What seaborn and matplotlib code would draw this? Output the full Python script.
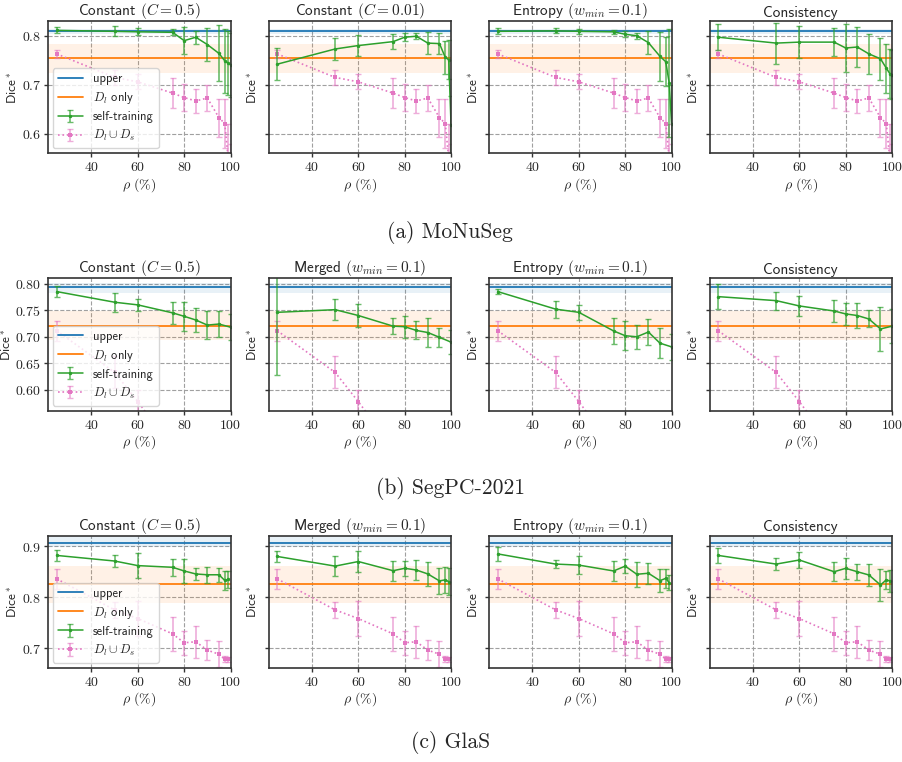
import numpy as np
import pandas as pd
import matplotlib
matplotlib.use("Agg")
import matplotlib.pyplot as plt
import seaborn as sns
from matplotlib.ticker import FuncFormatter
from matplotlib.container import ErrorbarContainer

sns.set_theme(style="ticks")
plt.rcParams['font.family'] = ['cmss10', 'DejaVu Sans']
plt.rcParams['mathtext.fontset'] = 'cm'
plt.rcParams['axes.unicode_minus'] = False

# ---------------- data ----------------
datasets = ["(a) MoNuSeg", "(b) SegPC-2021", "(c) GlaS"]

rho_mo = [25, 50, 60, 75, 80, 85, 90, 95, 97.5, 99, 100]
rho_seg = [25, 50, 60, 75, 80, 85, 90, 95, 100]
rho_glas = [25, 50, 60, 75, 80, 85, 90, 95, 97.5, 99]

titles_mo = [r"Constant $(C=0.5)$", r"Constant $(C=0.01)$", r"Entropy $(w_{min}=0.1)$", "Consistency"]
titles_seg = [r"Constant $(C=0.5)$", r"Merged $(w_{min}=0.1)$", r"Entropy $(w_{min}=0.1)$", "Consistency"]
titles_glas = [r"Constant $(C=0.5)$", r"Merged $(w_{min}=0.1)$", r"Entropy $(w_{min}=0.1)$", "Consistency"]

# MoNuSeg
upper_mo, upper_band_mo = 0.809, (0.804, 0.813)
dl_mo, dl_band_mo = 0.754, (0.725, 0.784)
st_mo = [
    [0.811, 0.809, 0.808, 0.807, 0.790, 0.797, 0.782, 0.764, 0.749, 0.744, 0.741],
    [0.742, 0.773, 0.780, 0.788, 0.797, 0.799, 0.785, 0.784, 0.756, 0.751, 0.618],
    [0.809, 0.810, 0.809, 0.808, 0.803, 0.800, 0.786, 0.758, 0.747, 0.703, 0.620],
    [0.797, 0.785, 0.787, 0.787, 0.775, 0.777, 0.763, 0.753, 0.734, 0.723, 0.720],
]
st_err_mo = [
    [0.006, 0.010, 0.007, 0.006, 0.027, 0.013, 0.034, 0.057, 0.065, 0.065, 0.065],
    [0.033, 0.022, 0.022, 0.016, 0.008, 0.006, 0.023, 0.022, 0.033, 0.040, 0.060],
    [0.006, 0.005, 0.005, 0.004, 0.006, 0.006, 0.023, 0.050, 0.050, 0.110, 0.080],
    [0.027, 0.042, 0.033, 0.028, 0.049, 0.040, 0.040, 0.043, 0.050, 0.050, 0.050],
]
un_mo = [0.763, 0.715, 0.706, 0.683, 0.674, 0.667, 0.673, 0.633, 0.621, 0.550, 0.500]
un_err_mo = [0.008, 0.015, 0.015, 0.030, 0.027, 0.025, 0.027, 0.039, 0.050, 0.070, 0.080]

# SegPC-2021
upper_seg, upper_band_seg = 0.793, (0.783, 0.802)
dl_seg, dl_band_seg = 0.7205, (0.694, 0.749)
st_seg = [
    [0.785, 0.765, 0.760, 0.745, 0.7385, 0.7316, 0.722, 0.724, 0.718],
    [0.746, 0.751, 0.740, 0.720, 0.719, 0.712, 0.708, 0.699, 0.690],
    [0.785, 0.752, 0.746, 0.711, 0.702, 0.700, 0.709, 0.688, 0.681],
    [0.7755, 0.768, 0.758, 0.7485, 0.743, 0.740, 0.7335, 0.7147, 0.720],
]
st_err_seg = [
    [0.011, 0.018, 0.012, 0.021, 0.027, 0.022, 0.026, 0.025, 0.024],
    [0.118, 0.020, 0.021, 0.015, 0.021, 0.017, 0.028, 0.018, 0.022],
    [0.005, 0.016, 0.014, 0.025, 0.027, 0.023, 0.024, 0.028, 0.024],
    [0.023, 0.017, 0.019, 0.021, 0.020, 0.024, 0.016, 0.041, 0.032],
]
un_seg = [0.7115, 0.633, 0.578, 0.490, 0.460, 0.440, 0.420, 0.400, 0.380]
un_err_seg = [0.019, 0.030, 0.022, 0.030, 0.030, 0.030, 0.030, 0.030, 0.030]

# GlaS
upper_glas, upper_band_glas = 0.906, (0.899, 0.925)
dl_glas, dl_band_glas = 0.826, (0.789, 0.862)
st_glas = [
    [0.882, 0.871, 0.862, 0.8587, 0.8515, 0.8456, 0.844, 0.844, 0.833, 0.835],
    [0.880, 0.861, 0.870, 0.852, 0.8567, 0.8534, 0.8456, 0.832, 0.834, 0.8305],
    [0.885, 0.865, 0.863, 0.8515, 0.861, 0.845, 0.847, 0.8325, 0.837, 0.8285],
    [0.882, 0.865, 0.873, 0.850, 0.8567, 0.850, 0.8436, 0.824, 0.834, 0.832],
]
st_err_glas = [
    [0.011, 0.011, 0.024, 0.017, 0.024, 0.012, 0.016, 0.014, 0.018, 0.017],
    [0.011, 0.019, 0.020, 0.020, 0.015, 0.019, 0.023, 0.026, 0.026, 0.027],
    [0.014, 0.008, 0.018, 0.020, 0.013, 0.025, 0.021, 0.022, 0.018, 0.015],
    [0.015, 0.012, 0.015, 0.019, 0.021, 0.016, 0.021, 0.032, 0.018, 0.022],
]
un_glas = [0.836, 0.775, 0.758, 0.728, 0.7105, 0.7125, 0.696, 0.688, 0.678, 0.678]
un_err_glas = [0.019, 0.016, 0.035, 0.034, 0.024, 0.031, 0.020, 0.026, 0.006, 0.005]

rows = [
    dict(rho=rho_mo, titles=titles_mo, upper=upper_mo, ub=upper_band_mo, dl=dl_mo, db=dl_band_mo,
         st=st_mo, ste=st_err_mo, un=un_mo, une=un_err_mo, ylim=(0.56, 0.83),
         yticks=[0.6, 0.7, 0.8], fmt="{:.1f}"),
    dict(rho=rho_seg, titles=titles_seg, upper=upper_seg, ub=upper_band_seg, dl=dl_seg, db=dl_band_seg,
         st=st_seg, ste=st_err_seg, un=un_seg, une=un_err_seg, ylim=(0.561, 0.81),
         yticks=[0.60, 0.65, 0.70, 0.75, 0.80], fmt="{:.2f}"),
    dict(rho=rho_glas, titles=titles_glas, upper=upper_glas, ub=upper_band_glas, dl=dl_glas, db=dl_band_glas,
         st=st_glas, ste=st_err_glas, un=un_glas, une=un_err_glas, ylim=(0.661, 0.921),
         yticks=[0.7, 0.8, 0.9], fmt="{:.1f}"),
]

C_UP = "#1f77b4"
C_DL = "#ff7f0e"
C_ST = "#2ca02c"
C_UN = "#e377c2"

fig, axes = plt.subplots(3, 4, figsize=(9.02, 7.62), dpi=100)
fig.subplots_adjust(left=0.0532, right=0.989, top=0.9724, bottom=0.1234, wspace=0.208, hspace=0.943)

for r, row in enumerate(rows):
    for c in range(4):
        ax = axes[r, c]
        ax.set_axisbelow(True)
        ax.grid(True, linestyle='--', color='#a0a0a0', linewidth=0.8)
        ax.axhspan(*row['ub'], color=C_UP, alpha=0.1, lw=0)
        ax.axhspan(*row['db'], color=C_DL, alpha=0.1, lw=0)
        h_up = ax.axhline(row['upper'], color=C_UP, lw=1.3)
        h_dl = ax.axhline(row['dl'], color=C_DL, lw=1.3)

        df_un = pd.DataFrame({"rho": row['rho'], "dice": row['un']})
        sns.lineplot(data=df_un, x="rho", y="dice", ax=ax, color=C_UN, linestyle=':', lw=1.2,
                     marker='s', markersize=2.5, markeredgewidth=0, legend=False)
        l_un = ax.lines[-1]
        eb_un = ax.errorbar(row['rho'], row['un'], yerr=row['une'], fmt='none', ecolor=C_UN,
                            elinewidth=1.2, capsize=2, alpha=0.6)

        df_st = pd.DataFrame({"rho": row['rho'], "dice": row['st'][c]})
        sns.lineplot(data=df_st, x="rho", y="dice", ax=ax, color=C_ST, lw=1.1,
                     marker='o', markersize=2.5, markeredgewidth=0, legend=False)
        l_st = ax.lines[-1]
        eb_st = ax.errorbar(row['rho'], row['st'][c], yerr=row['ste'][c], fmt='none', ecolor=C_ST,
                            elinewidth=1.2, capsize=2, alpha=0.7)

        ax.set_xlim(21.25, 100)
        ax.set_ylim(*row['ylim'])
        ax.set_xticks([40, 60, 80, 100])
        ax.set_yticks(row['yticks'])
        ax.xaxis.set_major_formatter(FuncFormatter(lambda v, p: r"$%d$" % v))
        fmt = row['fmt']
        if c == 0:
            ax.yaxis.set_major_formatter(FuncFormatter(lambda v, p, f=fmt: "$" + f.format(v) + "$"))
        else:
            ax.set_yticklabels([])
        ax.tick_params(axis='both', labelsize=10, length=3, width=1, color='#333333', pad=2)
        ax.set_title(row['titles'][c], fontsize=11, pad=3)
        ax.set_xlabel(r"$\rho\ (\%)$", fontsize=10, labelpad=1)
        ax.set_ylabel(r"Dice$^*$", fontsize=9.5, labelpad=1)
        for s in ax.spines.values():
            s.set_color('#333333')
            s.set_linewidth(1.2)

        if c == 0:
            h_st = ErrorbarContainer((l_st, eb_st.lines[1], eb_st.lines[2]), has_yerr=True)
            h_un = ErrorbarContainer((l_un, eb_un.lines[1], eb_un.lines[2]), has_yerr=True)
            ax.legend(handles=[h_up, h_dl, h_st, h_un],
                      labels=["upper", r"$D_l$ only", "self-training", r"$D_l \cup D_s$"],
                      loc='lower left', fontsize=9, borderaxespad=0.4, framealpha=0.8,
                      handlelength=2.0, labelspacing=0.4, numpoints=1)

cap_y = [1 - 232 / 762, 1 - 488 / 762, 1 - 743 / 762]
for name, y in zip(datasets, cap_y):
    fig.text(0.499, y, name, ha='center', va='center', fontsize=15.5, family=['cmr10', 'DejaVu Serif'])

fig.savefig("out.png", dpi=100)
